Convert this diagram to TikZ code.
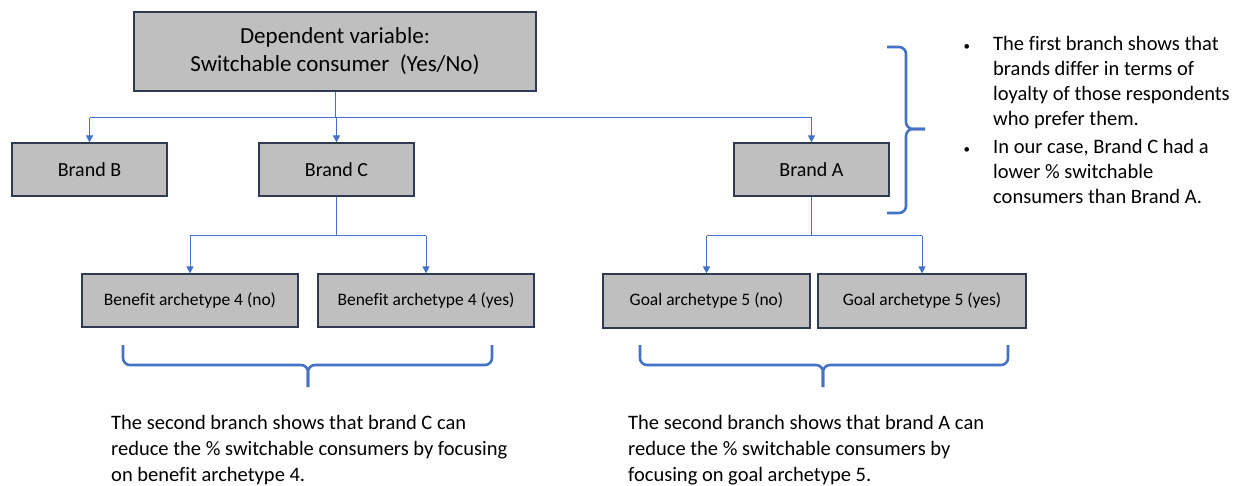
\documentclass[tikz,border=0pt]{standalone}
\usepackage{fontspec}
\setmainfont{Carlito}[Ligatures=NoCommon]
\usetikzlibrary{arrows.meta}
\definecolor{linkblue}{HTML}{4472C4}
\definecolor{boxgray}{HTML}{BFBFBF}
\definecolor{boxedge}{HTML}{2F3B55}
\newcommand{\dotmark}{\llap{{\fontsize{13}{13}\selectfont•}\hspace{23pt}}}
\begin{document}
\begin{tikzpicture}[x=1pt,y=-1pt,
    box/.style={draw=boxedge,fill=boxgray,line width=1.2pt,inner sep=0pt,align=center,minimum height=53pt},
    brandbox/.style={box,minimum width=155pt,font=\fontsize{20}{24}\selectfont},
    archbox/.style={box,font=\fontsize{17.5}{21}\selectfont},
    link/.style={draw=linkblue,line width=0.9pt},
    tip/.style={-{Triangle[width=7pt,length=7pt]}},
    curly/.style={draw=linkblue,line width=2.6pt,rounded corners=7pt},
    note/.style={align=left,inner sep=0pt,font=\fontsize{20.5}{25}\selectfont}]
\useasboundingbox (0,0) rectangle (1242,485);
\node[box,minimum width=402pt,minimum height=79pt,font=\fontsize{23}{28}\selectfont] (dep) at (335,51.5) {Dependent variable:\\Switchable consumer~~(Yes/No)};
\node[brandbox] (brandB) at (89.5,169.5) {Brand B};
\node[brandbox] (brandC) at (336.5,169.5) {Brand C};
\node[brandbox] (brandA) at (811.5,169.5) {Brand A};
\node[archbox,minimum width=216pt] (benNo) at (190,300.5) {Benefit archetype 4 (no)};
\node[archbox,minimum width=216pt] (benYes) at (426,300.5) {Benefit archetype 4 (yes)};
\node[archbox,minimum width=207pt,minimum height=54pt] (goalNo) at (706.5,301) {Goal archetype 5 (no)};
\node[archbox,minimum width=208pt,minimum height=54pt] (goalYes) at (922,301) {Goal archetype 5 (yes)};
\draw[link] (dep.south) -- ++(0,26) coordinate (d1);
\draw[link] (d1 -| brandB) -- (d1 -| brandA);
\foreach \n in {brandB,brandC,brandA} \draw[link,tip] (d1 -| \n) -- (\n.north);
\draw[link] (brandC.south) -- ++(0,39) coordinate (c1);
\draw[link] (c1 -| benNo) -- (c1 -| benYes);
\foreach \n in {benNo,benYes} \draw[link,tip] (c1 -| \n) -- (\n.north);
\draw[link] (brandA.south) -- ++(0,39) coordinate (a1);
\draw[link] (a1 -| goalNo) -- (a1 -| goalYes);
\foreach \n in {goalNo,goalYes} \draw[link,tip] (a1 -| \n) -- (\n.north);
\draw[curly] (887,47) -- (906,47) -- (906,129) -- (925,129);
\draw[curly] (925,129) -- (906,129) -- (906,213) -- (887,213);
\draw[curly] (123,345) -- (123,365) -- (308,365) -- (308,387);
\draw[curly] (308,387) -- (308,365) -- (492,365) -- (492,345);
\draw[curly] (640,345) -- (640,365) -- (823,365) -- (823,387);
\draw[curly] (823,387) -- (823,365) -- (1008,365) -- (1008,345);
\node[note,anchor=north west] (first) at (993,36) {\dotmark The first branch shows that\\brands differ in terms of\\loyalty of those respondents\\who prefer them.};
\node[note,anchor=north west] (second) at (993,139) {\dotmark In our case, Brand C had a\\lower \% switchable\\consumers than Brand A.};
\node[note,anchor=north west,font=\fontsize{20.5}{26}\selectfont] (noteC) at (111,415) {The second branch shows that brand C can\\reduce the \% switchable consumers by focusing\\on benefit archetype 4.};
\node[note,anchor=north west,font=\fontsize{20.5}{26}\selectfont] (noteA) at (628,415) {The second branch shows that brand A can\\reduce the \% switchable consumers by\\focusing on goal archetype 5.};
\end{tikzpicture}
\end{document}
